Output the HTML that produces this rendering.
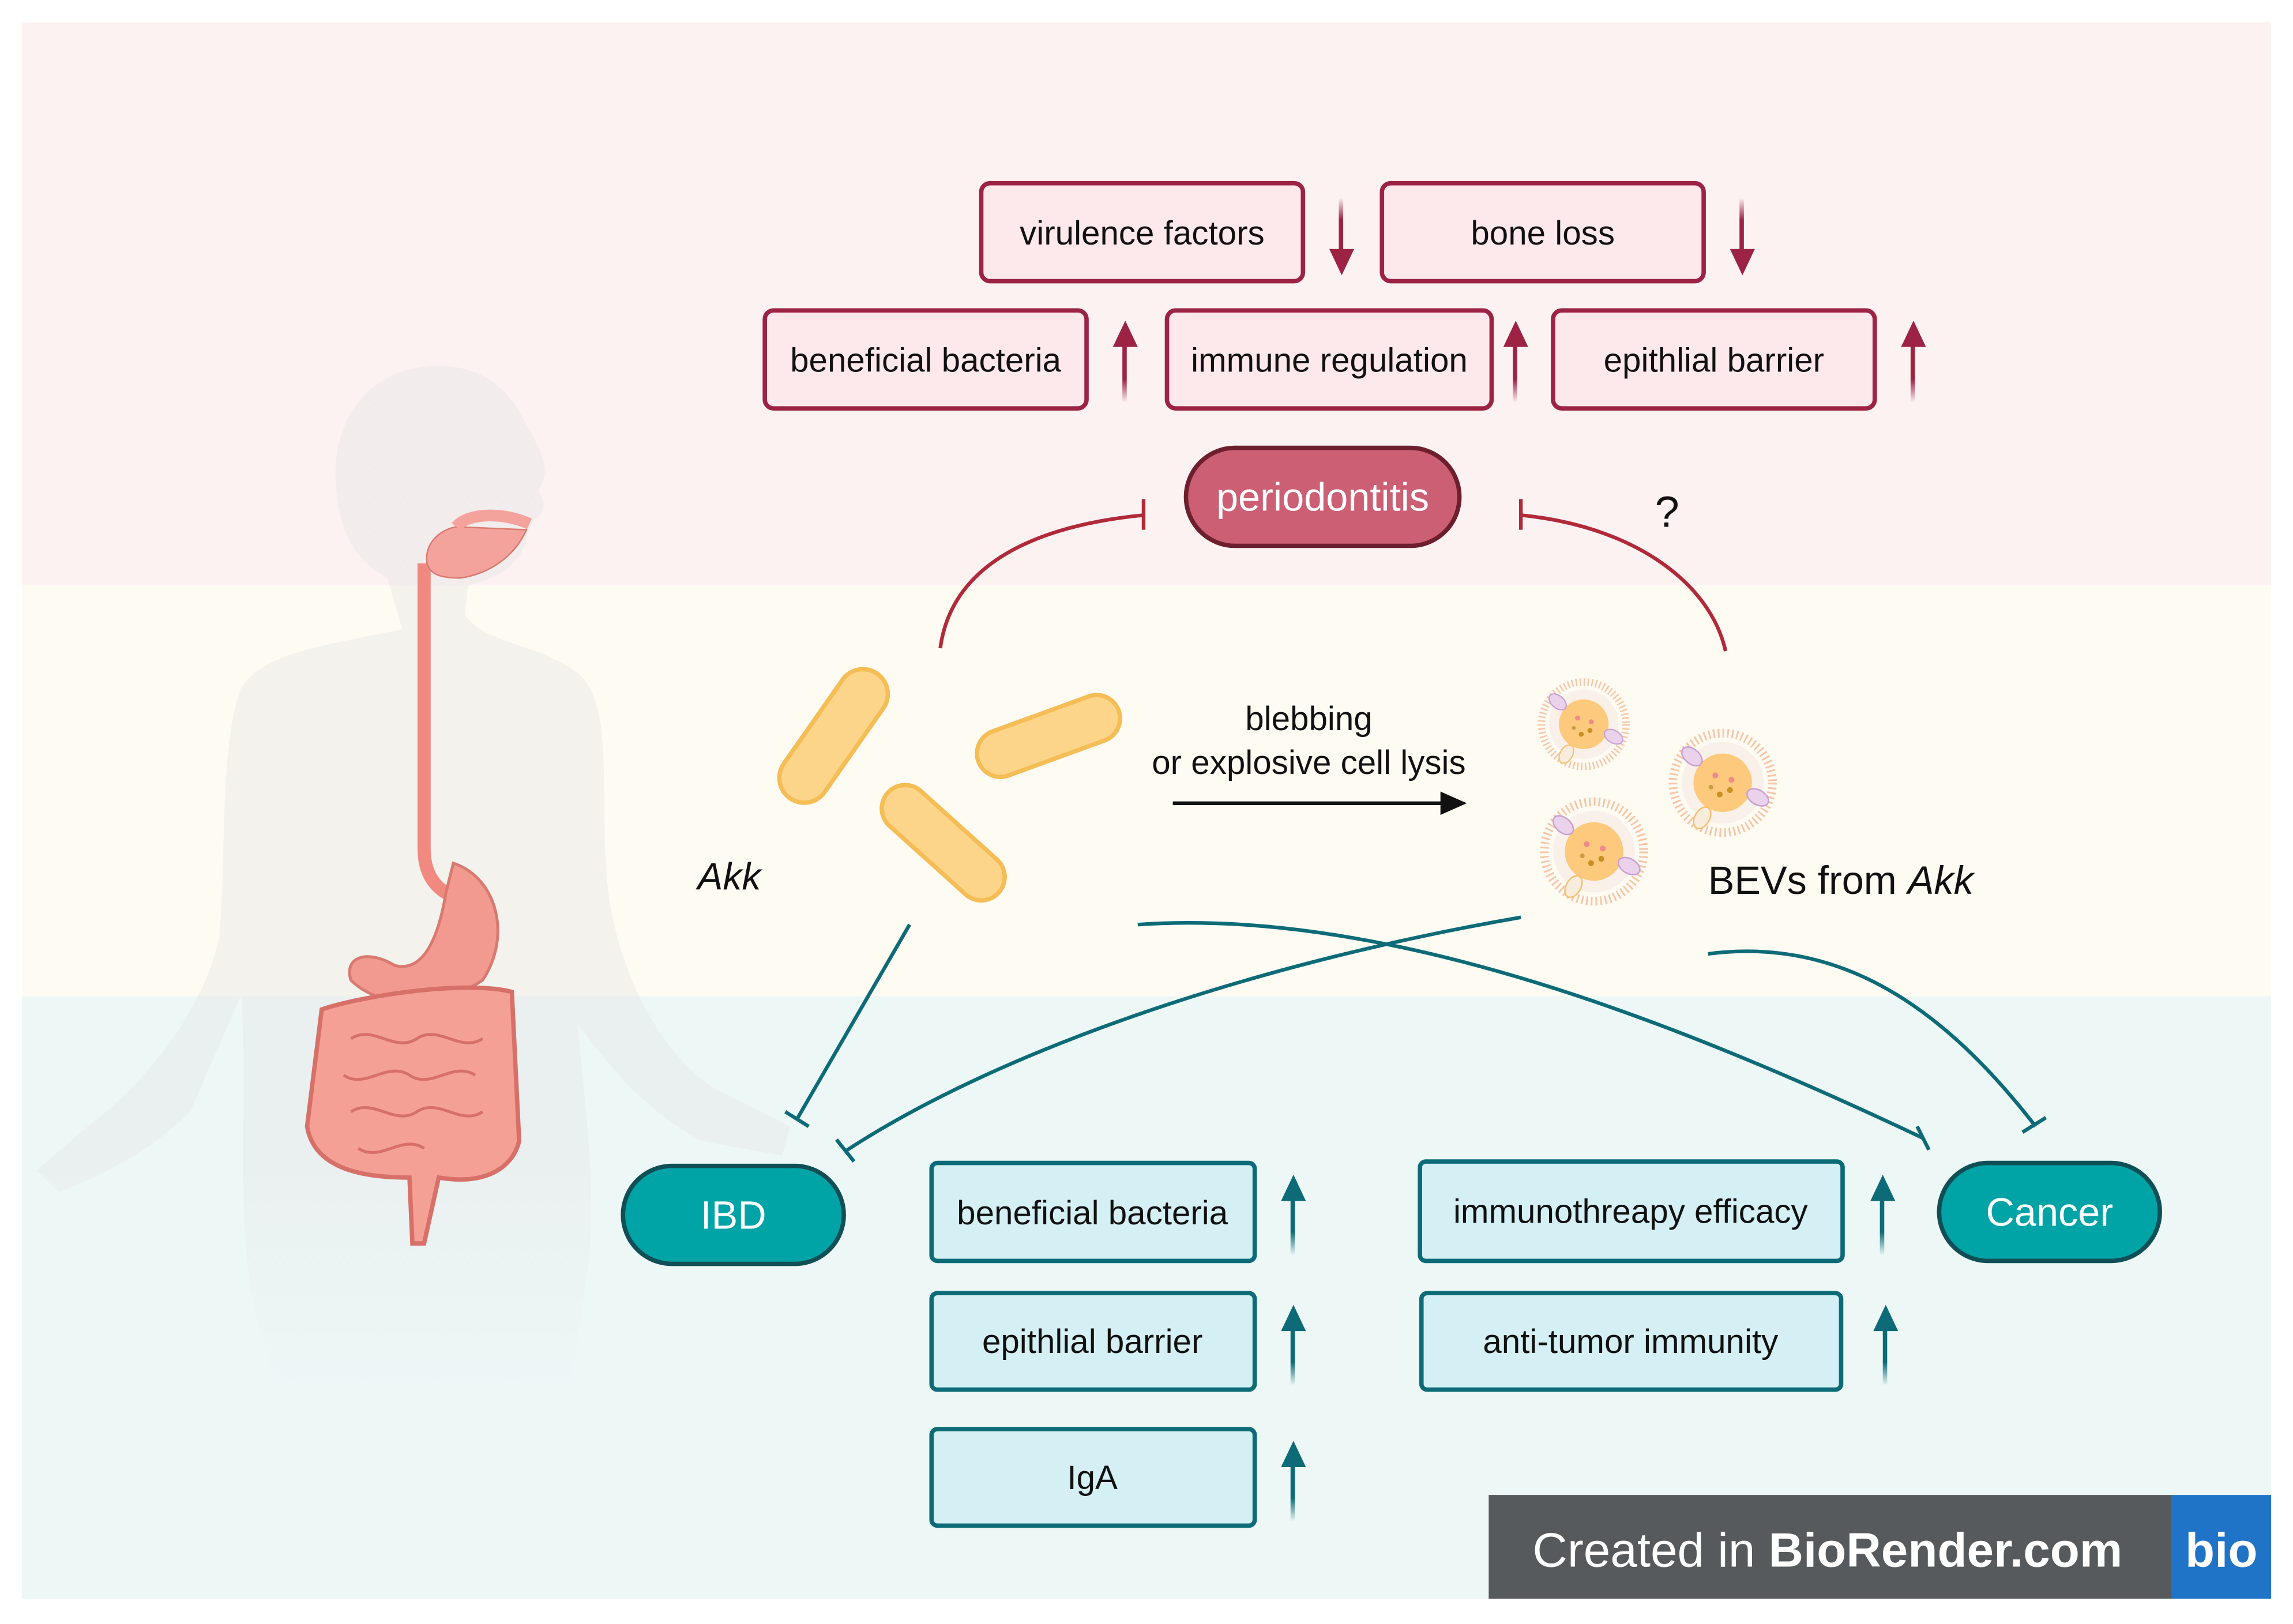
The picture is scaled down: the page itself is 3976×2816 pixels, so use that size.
<!DOCTYPE html>
<html><head><meta charset="utf-8"><style>
html,body{margin:0;padding:0;background:#fff}
svg{display:block}
text{font-family:"Liberation Sans",sans-serif}
</style></head><body>
<svg width="3976" height="2816" viewBox="0 0 1568 1110" xmlns="http://www.w3.org/2000/svg">
<defs>
<linearGradient id="ad" x1="0" y1="0" x2="0" y2="1"><stop offset="0" stop-color="#9c2344" stop-opacity="0"/><stop offset="0.4" stop-color="#9c2344"/></linearGradient>
<linearGradient id="au" x1="0" y1="1" x2="0" y2="0"><stop offset="0" stop-color="#9c2344" stop-opacity="0"/><stop offset="0.4" stop-color="#9c2344"/></linearGradient>
<linearGradient id="tu" x1="0" y1="1" x2="0" y2="0"><stop offset="0" stop-color="#0d6b78" stop-opacity="0"/><stop offset="0.4" stop-color="#0d6b78"/></linearGradient>
<linearGradient id="fade" x1="0" y1="0" x2="0" y2="1"><stop offset="0.75" stop-color="#e6e6e6" stop-opacity="1"/><stop offset="1" stop-color="#e6e6e6" stop-opacity="0"/></linearGradient>
<g id="bev">
<circle r="34" fill="none" stroke="#f6c7a8" stroke-width="6" stroke-dasharray="1.2 2"/>
<circle r="28" fill="#faf0ea"/>
<circle r="20" fill="#fdc97c"/>
<circle cx="-5" cy="-5" r="2" fill="#f08a8a"/><circle cx="6" cy="-2" r="2" fill="#f08a8a"/><circle cx="-2" cy="8" r="2" fill="#c89020"/><circle cx="5" cy="5" r="2" fill="#c89020"/><circle cx="-8" cy="3" r="1.6" fill="#c8a040"/>
<ellipse cx="-21" cy="-18" rx="8" ry="5" transform="rotate(40 -21 -18)" fill="#ead2ec" stroke="#c9a0d0"/>
<ellipse cx="24" cy="10" rx="8" ry="5" transform="rotate(30 24 10)" fill="#ead2ec" stroke="#c9a0d0"/>
<ellipse cx="-14" cy="24" rx="5" ry="8" transform="rotate(30 -14 24)" fill="#f8ecdc" stroke="#f5c070"/>
</g>
</defs>
<rect width="1568" height="1110" fill="#fff"/>
<rect x="15" y="15" width="1538" height="386" fill="#fdf2f2"/>
<rect x="15" y="400" width="1538" height="282" fill="#fefbf3"/>
<rect x="15" y="681" width="1538" height="412" fill="#edf7f6"/>

<!-- body silhouette -->
<g fill="url(#fade)" opacity="0.45">
<path d="M300 250 C250 250 225 290 230 335 C232 365 245 385 265 395 L275 430 C230 440 180 445 165 470 C150 510 155 580 150 640 C140 690 100 740 60 770 L25 800 L40 815 C80 800 110 780 130 760 L165 680 C170 760 160 830 175 900 L190 950 L390 950 L400 880 C410 820 400 760 395 700 C410 720 440 760 480 780 L535 790 L540 770 L490 745 C450 720 420 660 415 600 C410 540 420 480 395 460 C370 440 330 440 318 420 L320 400 C345 395 360 380 360 365 L365 355 C375 350 372 340 368 335 C380 320 365 300 360 290 C345 260 325 250 300 250 Z"/>
</g>
<!-- digestive -->
<path d="M290 385 L290 580 C290 600 300 610 315 615" fill="none" stroke="#f08a80" stroke-width="9"/>
<path d="M292 385 C290 372 300 362 312 360 L360 362 C352 380 335 392 315 395 C300 395 294 392 292 385Z" fill="#f3a39b" stroke="#d97a70"/>
<path d="M312 360 C320 350 345 350 362 358" fill="none" stroke="#f3a39b" stroke-width="8"/>
<path d="M310 590 C340 600 350 640 330 670 C300 690 260 690 240 670 C235 655 250 648 270 660 C290 665 300 640 305 610Z" fill="#f39a90" stroke="#d97a70" stroke-width="2"/>
<path d="M220 690 C250 680 320 670 350 678 L355 780 C350 800 330 810 300 805 L290 850 L282 850 L280 805 C250 805 215 800 210 770 Z" fill="#f4a095" stroke="#d77068" stroke-width="3"/>
<path d="M240 710 c15 -10 30 10 45 0 c15 -10 30 10 45 0 M235 735 c15 10 30 -10 45 0 c15 10 30 -10 45 0 M240 760 c15 -10 30 10 45 0 c15 -10 30 10 45 0 M245 785 c15 10 30 -10 45 0" fill="none" stroke="#d77068" stroke-width="2"/>

<!-- top boxes -->
<g fill="#fde8ec" stroke="#9c2344" stroke-width="3">
<rect x="671" y="125" width="220" height="67" rx="6"/>
<rect x="945" y="125" width="220" height="67" rx="6"/>
<rect x="523" y="212" width="220" height="67" rx="6"/>
<rect x="798" y="212" width="222" height="67" rx="6"/>
<rect x="1062" y="212" width="220" height="67" rx="6"/>
</g>
<g font-size="23" text-anchor="middle" fill="#111">
<text x="781" y="167">virulence factors</text>
<text x="1055" y="167">bone loss</text>
<text x="633" y="254">beneficial bacteria</text>
<text x="909" y="254">immune regulation</text>
<text x="1172" y="254">epithlial barrier</text>
</g>
<g>
<rect x="915.5" y="135" width="3" height="38" fill="url(#ad)"/><path d="M909 170 L926 170 L917.5 188Z" fill="#9c2344"/>
<rect x="1189.5" y="135" width="3" height="38" fill="url(#ad)"/><path d="M1183 170 L1200 170 L1191.5 188Z" fill="#9c2344"/>
<rect x="767.5" y="235" width="3" height="40" fill="url(#au)"/><path d="M761 237 L778 237 L769.5 219Z" fill="#9c2344"/>
<rect x="1034.5" y="235" width="3" height="40" fill="url(#au)"/><path d="M1028 237 L1045 237 L1036.5 219Z" fill="#9c2344"/>
<rect x="1306.5" y="235" width="3" height="40" fill="url(#au)"/><path d="M1300 237 L1317 237 L1308.5 219Z" fill="#9c2344"/>
</g>
<rect x="811" y="306" width="187" height="67" rx="33.5" fill="#cc5f74" stroke="#6e1f2e" stroke-width="3"/>
<text x="904.5" y="349" font-size="27" text-anchor="middle" fill="#fff">periodontitis</text>
<g fill="none" stroke="#b02a3a" stroke-width="2.5">
<path d="M643 443 C650 390 700 360 782 352"/><path d="M782 341 L782 362"/>
<path d="M1180 445 C1170 400 1120 360 1040 352"/><path d="M1040 341 L1040 362"/>
</g>
<text x="1140" y="360" font-size="30" text-anchor="middle" fill="#111">?</text>

<!-- bacteria -->
<g fill="#fdd58a" stroke="#f5bd55" stroke-width="3">
<rect x="518" y="486" width="104" height="34" rx="17" transform="rotate(-55 570 503)"/>
<rect x="666" y="487" width="102" height="32" rx="16" transform="rotate(-20 717 503)"/>
<rect x="594" y="560" width="102" height="32" rx="16" transform="rotate(42 645 576)"/>
</g>
<text x="477" y="608" font-size="26" font-style="italic" fill="#111">Akk</text>
<text x="895" y="499" font-size="23" text-anchor="middle" fill="#111">blebbing</text>
<text x="895" y="529" font-size="23" text-anchor="middle" fill="#111">or explosive cell lysis</text>
<path d="M802 549 L988 549" stroke="#111" stroke-width="2.5"/><path d="M985 541 L1003 549 L985 557Z" fill="#111"/>
<use href="#bev" transform="translate(1083 495) scale(0.85)"/>
<use href="#bev" transform="translate(1178 535)"/>
<use href="#bev" transform="translate(1090 582)"/>
<text x="1168" y="611" font-size="27" fill="#111">BEVs from <tspan font-style="italic">Akk</tspan></text>

<!-- teal connectors -->
<g fill="none" stroke="#0d6b78" stroke-width="2.5">
<path d="M622 632 L545 765"/><path d="M537 760 L553 770"/>
<path d="M1040 627 C850 660 680 720 578 787"/><path d="M572 779 L584 794"/>
<path d="M778 632 C950 620 1150 700 1315 778"/><path d="M1311 770 L1319 786"/>
<path d="M1168 652 C1260 640 1330 690 1392 770"/><path d="M1383 774 L1399 764"/>
</g>
<rect x="426" y="797" width="151" height="67" rx="33.5" fill="#00a3a6" stroke="#0f4f55" stroke-width="3"/>
<text x="501.5" y="840" font-size="27" text-anchor="middle" fill="#fff">IBD</text>
<rect x="1326" y="795" width="151" height="67" rx="33.5" fill="#00a3a6" stroke="#0f4f55" stroke-width="3"/>
<text x="1401.5" y="838" font-size="27" text-anchor="middle" fill="#fff">Cancer</text>

<g fill="#d5f0f5" stroke="#0d6b78" stroke-width="3">
<rect x="637" y="795" width="221" height="67" rx="4"/>
<rect x="637" y="884" width="221" height="66" rx="4"/>
<rect x="637" y="977" width="221" height="66" rx="4"/>
<rect x="971" y="794" width="289" height="68" rx="4"/>
<rect x="972" y="884" width="287" height="66" rx="4"/>
</g>
<g font-size="23" text-anchor="middle" fill="#111">
<text x="747" y="837">beneficial bacteria</text>
<text x="747" y="925">epithlial barrier</text>
<text x="747" y="1018">IgA</text>
<text x="1115" y="836">immunothreapy efficacy</text>
<text x="1115" y="925">anti-tumor immunity</text>
</g>
<g>
<rect x="882.5" y="818" width="3" height="40" fill="url(#tu)"/><path d="M876 821 L893 821 L884.5 803Z" fill="#0d6b78"/>
<rect x="882.5" y="907" width="3" height="40" fill="url(#tu)"/><path d="M876 910 L893 910 L884.5 892Z" fill="#0d6b78"/>
<rect x="882.5" y="1000" width="3" height="40" fill="url(#tu)"/><path d="M876 1003 L893 1003 L884.5 985Z" fill="#0d6b78"/>
<rect x="1285.5" y="818" width="3" height="40" fill="url(#tu)"/><path d="M1279 821 L1296 821 L1287.5 803Z" fill="#0d6b78"/>
<rect x="1287.5" y="907" width="3" height="40" fill="url(#tu)"/><path d="M1281 910 L1298 910 L1289.5 892Z" fill="#0d6b78"/>
</g>

<!-- watermark -->
<rect x="1018" y="1022" width="467" height="71" fill="#565a5d"/>
<rect x="1485" y="1022" width="68" height="71" fill="#1f74c8"/>
<text x="1048" y="1071" font-size="33" fill="#fff">Created in <tspan font-weight="bold">BioRender.com</tspan></text>
<text x="1519" y="1071" font-size="33" font-weight="bold" text-anchor="middle" fill="#fff">bio</text>
</svg>
</body></html>
